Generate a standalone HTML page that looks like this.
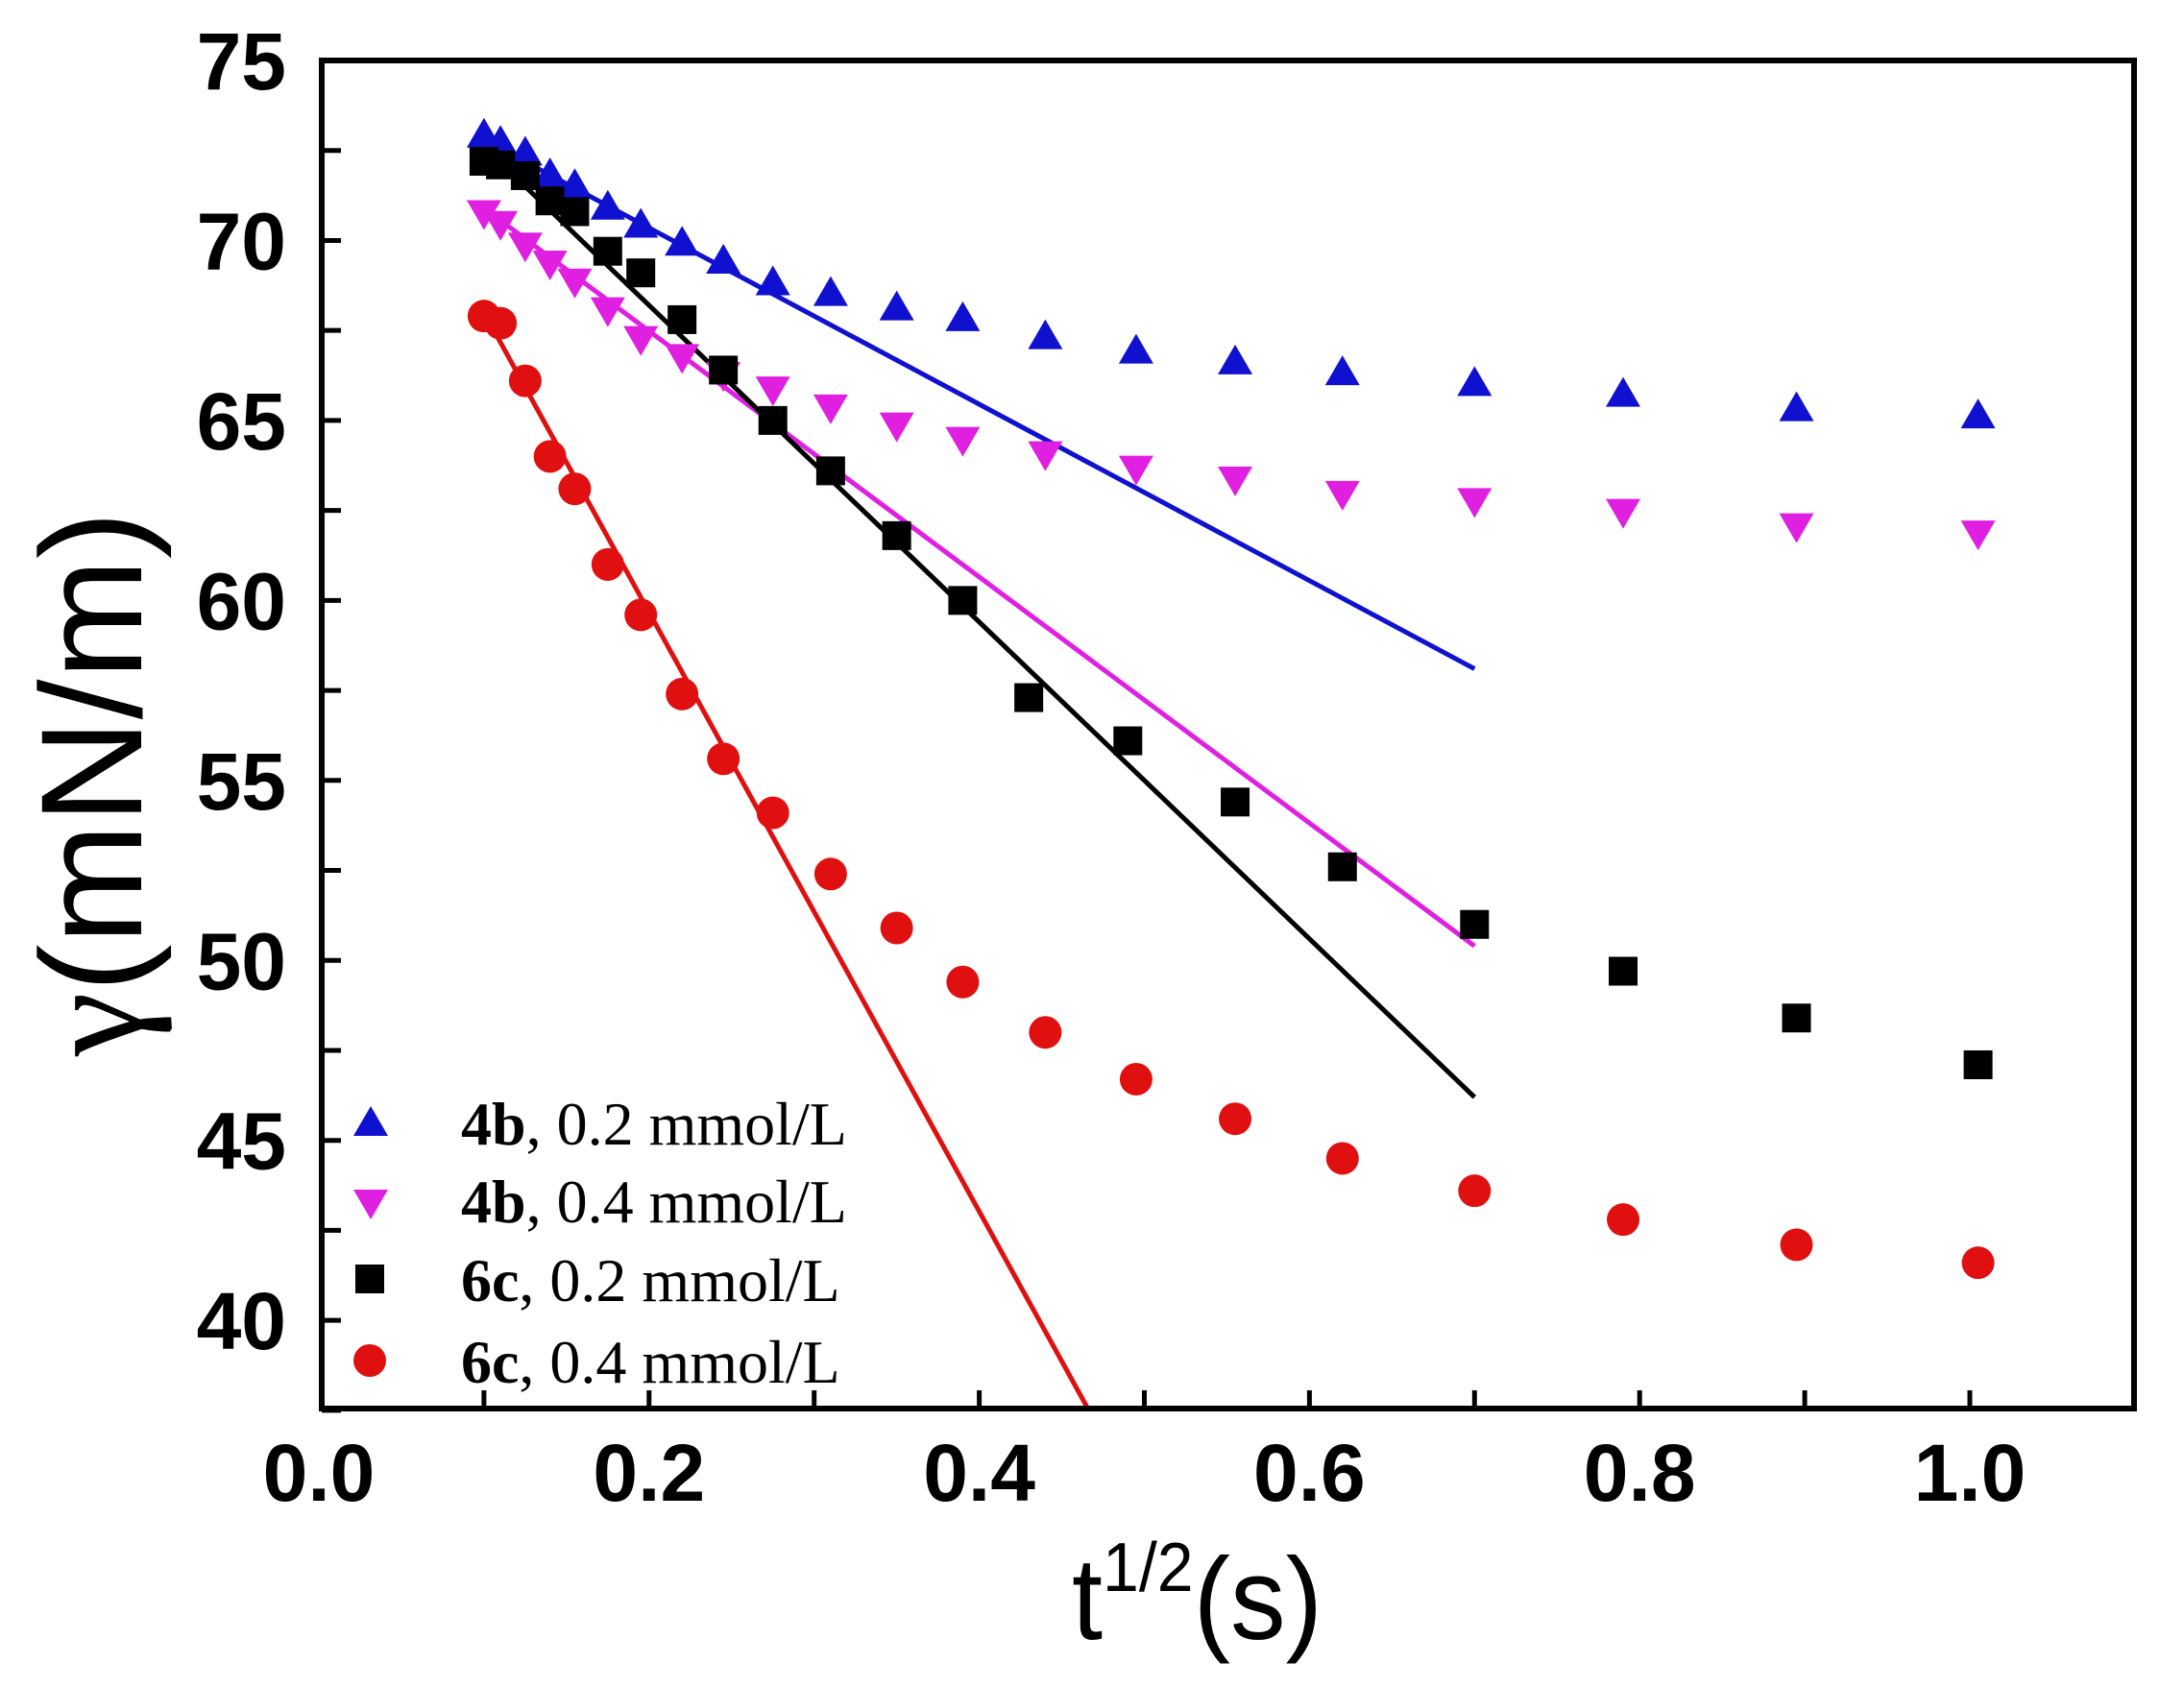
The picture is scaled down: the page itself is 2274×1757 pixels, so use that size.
<!DOCTYPE html>
<html><head><meta charset="utf-8"><style>html,body{margin:0;padding:0;background:#fff}svg{display:block}</style></head>
<body>
<svg id="s" width="2274" height="1757" xmlns="http://www.w3.org/2000/svg" viewBox="0 0 2274 1757">
<rect width="2274" height="1757" fill="#fff"/>
<g id="plot"></g>
<rect x="335" y="63" width="1887" height="1404" fill="none" stroke="#000" stroke-width="6"/>
<g id="ticks" stroke="#000" stroke-width="5"></g>
<g font-family="Liberation Sans, Arial, sans-serif" font-weight="bold" font-size="84" fill="#000" id="lab"></g>
<text transform="translate(147,816) rotate(-90)" text-anchor="middle" font-family="Liberation Sans, sans-serif" font-size="150" textLength="568" lengthAdjust="spacingAndGlyphs"><tspan font-family="Liberation Serif, serif">γ</tspan>(mN/m)</text>
<text x="1116" y="1707" font-family="Liberation Sans, sans-serif" font-size="122" textLength="261" lengthAdjust="spacingAndGlyphs">t<tspan font-size="72" dy="-50">1/2</tspan><tspan dy="50">(s)</tspan></text>
<g font-family="Liberation Serif, Times New Roman, serif" font-size="64" fill="#000">
<text x="480" y="1192"><tspan font-weight="bold">4b</tspan>, 0.2 mmol/L</text>
<text x="480" y="1273"><tspan font-weight="bold">4b</tspan>, 0.4 mmol/L</text>
<text x="480" y="1355"><tspan font-weight="bold">6c</tspan>, 0.2 mmol/L</text>
<text x="480" y="1440"><tspan font-weight="bold">6c</tspan>, 0.4 mmol/L</text>
</g>
</svg>
<script>
const X=v=>332+1719*v, Y=v=>63+(75-v)*37.49;
const NS="http://www.w3.org/2000/svg";
function el(p,t,a){const e=document.createElementNS(NS,t);for(const k in a)e.setAttribute(k,a[k]);p.appendChild(e);return e;}
const plot=document.getElementById('plot'), tk=document.getElementById('ticks'), lab=document.getElementById('lab');
for(let i=1;i<=10;i++){const x=X(i/10);el(tk,'line',{x1:x,y1:1467,x2:x,y2:1448});}
for(let v=37.5;v<=75;v+=2.5){const y=Y(v);el(tk,'line',{x1:335,y1:y,x2:355,y2:y});}
for(let i=0;i<=5;i++){const t=el(lab,'text',{x:X(i*0.2),y:1563,'text-anchor':'middle'});t.textContent=(i*0.2).toFixed(1);}
for(let v=40;v<=75;v+=5){const t=el(lab,'text',{x:298,y:Y(v)+30,'text-anchor':'end'});t.textContent=v;}
const clip=el(plot,'clipPath',{id:'c'});el(clip,'rect',{x:335,y:63,width:1887,height:1404});
const lg=el(plot,'g',{'clip-path':'url(#c)','stroke-width':5});
[[0.1,72.8,0.7,58.1,'#1010d0'],[0.1,70.9,0.7,50.4,'#e020e0'],[0.1,72.6,0.7,46.2,'#000'],[0.1,68.0,0.5,34.7,'#e01010']].forEach(l=>el(lg,'line',{x1:X(l[0]),y1:Y(l[1]),x2:X(l[2]),y2:Y(l[3]),stroke:l[4]}));
const xs=[0.1,0.11,0.125,0.14,0.155,0.175,0.195,0.22,0.245,0.275,0.31,0.35,0.39,0.44,0.495,0.555,0.62,0.7,0.79,0.895,1.005];
const blue=[72.9,72.7,72.4,71.8,71.5,70.9,70.4,69.9,69.4,68.8,68.5,68.1,67.8,67.3,66.9,66.6,66.3,66.0,65.7,65.3,65.1];
const mag=[70.8,70.5,69.9,69.4,68.9,68.1,67.3,66.8,66.3,65.9,65.4,64.9,64.5,64.1,63.7,63.4,63.0,62.8,62.5,62.1,61.9];
const blk=[72.2,72.1,71.8,71.1,70.8,69.7,69.1,67.8,66.4,65.0,63.6,61.8,60.0,57.3,56.1,54.4,52.6,51.0,49.7,48.4,47.1];
const bxs=xs.slice();bxs[13]=0.43;bxs[14]=0.49;
const red=[67.9,67.7,66.1,64.0,63.1,61.0,59.6,57.4,55.6,54.1,52.4,50.9,49.4,48.0,46.7,45.6,44.5,43.6,42.8,42.1,41.6];
const up=(x,y,c)=>el(plot,'polygon',{points:`${x},${y-19} ${x-18},${y+12} ${x+18},${y+12}`,fill:c});
const dn=(x,y,c)=>el(plot,'polygon',{points:`${x},${y+19} ${x-18},${y-12} ${x+18},${y-12}`,fill:c});
const sq=(x,y,c)=>el(plot,'rect',{x:x-15,y:y-15,width:30,height:30,fill:c});
const ci=(x,y,c)=>el(plot,'circle',{cx:x,cy:y,r:17,fill:c});
xs.forEach((x,i)=>up(X(x),Y(blue[i]),'#1010d0'));
xs.forEach((x,i)=>dn(X(x),Y(mag[i]),'#e020e0'));
bxs.forEach((x,i)=>sq(X(x),Y(blk[i]),'#000'));
xs.forEach((x,i)=>ci(X(x),Y(red[i]),'#e01010'));
up(386,1171,'#1010d0');dn(386,1251,'#e020e0');sq(385,1332,'#000');ci(385,1417,'#e01010');
</script>
</body></html>
